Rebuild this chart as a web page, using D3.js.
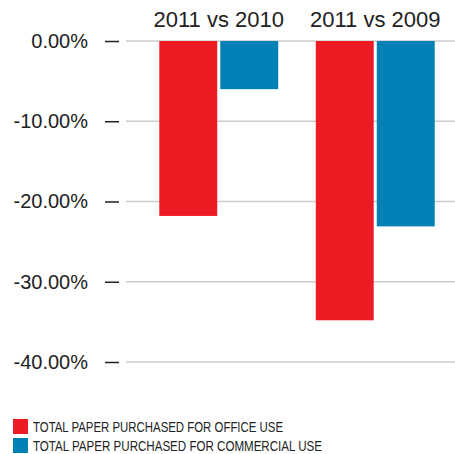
<!DOCTYPE html>
<html><head><meta charset="utf-8">
<script src="https://cdn.jsdelivr.net/npm/d3@7"></script>
<style>body{margin:0;background:#fff}svg{display:block}</style>
</head><body>
<svg id="c" width="455" height="454"></svg>
<script>
const groups = ["2011 vs 2010", "2011 vs 2009"];
const seriesNames = ["TOTAL PAPER PURCHASED FOR OFFICE USE", "TOTAL PAPER PURCHASED FOR COMMERCIAL USE"];
const officeValues = [-21.8, -34.8];
const commercialValues = [-6.0, -23.1];
const yTicks = [0, -10, -20, -30, -40];
const colors = ["#ed1c24", "#0080b4"];

const svg = d3.select("#c");
const font = "'Liberation Sans', Arial, sans-serif";
const y = d3.scaleLinear().domain([0, -40]).range([41, 362]);
const x0 = d3.scaleBand().domain(groups).range([140.5, 453.5]).paddingInner(0.24).paddingOuter(0.12);
const x1 = d3.scaleBand().domain([0, 1]).range([0, x0.bandwidth()]).paddingInner(0.05);
const values = [officeValues, commercialValues];

// gridlines
svg.append("g").selectAll("line").data(yTicks).join("line")
  .attr("x1", 126).attr("x2", 455)
  .attr("y1", d => y(d)).attr("y2", d => y(d))
  .attr("stroke", "#cccccc").attr("stroke-width", 1.5);

// axis
const fmt = d3.formatLocale({decimal: ".", thousands: ",", grouping: [3], currency: ["", ""], minus: "-"}).format(".2f");
const axis = d3.axisLeft(y).tickValues(yTicks).tickSize(14).tickPadding(17)
  .tickFormat(d => fmt(d) + "%");
const ag = svg.append("g").attr("transform", "translate(119,0)").call(axis);
ag.select(".domain").remove();
ag.selectAll(".tick line").attr("stroke", "#222").attr("stroke-width", 1.5);
ag.selectAll(".tick text").attr("font-family", font).attr("font-size", 20).attr("fill", "#222");

// bars
groups.forEach((g, gi) => {
  values.forEach((vals, si) => {
    const v = vals[gi];
    svg.append("rect")
      .attr("x", x0(g) + x1(si))
      .attr("y", y(0))
      .attr("width", x1.bandwidth())
      .attr("height", y(v) - y(0))
      .attr("fill", colors[si]);
  });
  svg.append("text")
    .attr("x", x0(g) + x0.bandwidth() / 2)
    .attr("y", 27)
    .attr("text-anchor", "middle")
    .attr("font-family", font).attr("font-size", 22).attr("fill", "#222")
    .text(g);
});

// legend
const lg = svg.append("g");
seriesNames.forEach((n, i) => {
  const yy = 419 + i * 19;
  lg.append("rect").attr("x", 13).attr("y", yy).attr("width", 15).attr("height", 15).attr("fill", colors[i]);
  lg.append("text").attr("x", 33).attr("y", yy + 12.5)
    .attr("font-family", "'Liberation Sans Narrow', 'Liberation Sans', Arial, sans-serif")
    .attr("font-size", 14).attr("fill", "#222")
    .attr("textLength", i === 0 ? 250 : 289).attr("lengthAdjust", "spacingAndGlyphs")
    .text(n);
});
</script>
</body></html>
